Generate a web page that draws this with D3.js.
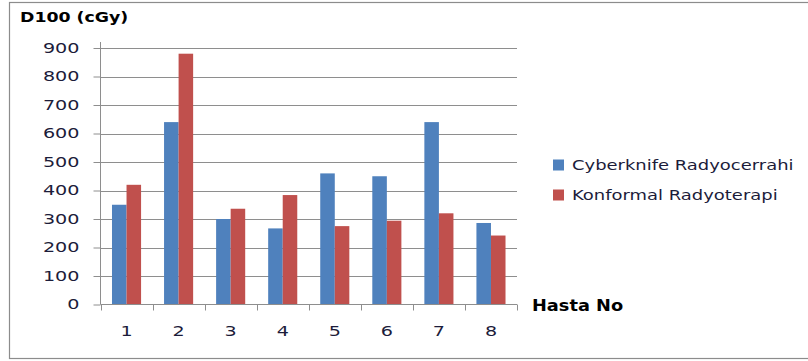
<!DOCTYPE html>
<html>
<head>
<meta charset="utf-8">
<script src="https://cdn.jsdelivr.net/npm/d3@7"></script>
<style>
  html, body { margin: 0; padding: 0; background: #fff; }
  svg { display: block; }
  text { font-family: "DejaVu Sans", Verdana, sans-serif; }
</style>
</head>
<body>
<svg id="chart" width="808" height="361"></svg>
<script>
// Patient numbers and D100 doses (cGy) for the two treatment techniques
const patients = ["1", "2", "3", "4", "5", "6", "7", "8"];
const cyberknife = [350, 640, 300, 267, 460, 450, 640, 286];
const konformal = [420, 880, 336, 384, 275, 294, 320, 242];
const seriesNames = ["Cyberknife Radyocerrahi", "Konformal Radyoterapi"];
const yTicks = [0, 100, 200, 300, 400, 500, 600, 700, 800, 900];

const colors = ["#4F81BD", "#C0504D"];
const series = [cyberknife, konformal];
const labelColor = "#1c1c3a";
const wide = 1.42;        // horizontal stretch of the axis labels
const legendWide = 1.33;  // horizontal stretch of the legend labels

const svg = d3.select("#chart");

// Chart frame
svg.append("rect")
  .attr("x", 9.5).attr("y", 2.5)
  .attr("width", 820).attr("height", 356)
  .attr("fill", "#fff").attr("stroke", "#8c8c8c").attr("stroke-width", 1.2);

const plot = { left: 100.5, right: 517, top: 48, bottom: 304.5 };

const x = d3.scaleBand().domain(patients).range([plot.left, plot.right]);
const xInner = d3.scaleBand().domain(d3.range(series.length)).range([0, x.bandwidth()])
  .paddingInner(0).paddingOuter(0.79);
const y = d3.scaleLinear().domain([0, 900]).range([plot.bottom, plot.top]);

// Horizontal gridlines
svg.append("g")
  .selectAll("line")
  .data(yTicks.filter(d => d > 0))
  .join("line")
  .attr("x1", plot.left).attr("x2", plot.right)
  .attr("y1", d => Math.round(y(d)) + 0.5).attr("y2", d => Math.round(y(d)) + 0.5)
  .attr("stroke", "#8e8e8e").attr("stroke-width", 1);

// Bars
const groups = svg.append("g")
  .selectAll("g")
  .data(patients)
  .join("g")
  .attr("transform", d => `translate(${x(d)},0)`);

groups.selectAll("rect")
  .data((d, i) => series.map((s, k) => ({ k, v: s[i] })))
  .join("rect")
  .attr("x", d => xInner(d.k))
  .attr("width", xInner.bandwidth())
  .attr("y", d => y(d.v))
  .attr("height", d => plot.bottom - y(d.v))
  .attr("fill", d => colors[d.k]);

// Y axis
const yAxis = d3.axisLeft(y).tickValues(yTicks).tickSize(7).tickPadding(0);
const gy = svg.append("g").attr("transform", `translate(${plot.left},0)`).call(yAxis);
gy.select(".domain").attr("stroke", "#8e8e8e").attr("d", `M0,${plot.bottom}V${plot.top - 6}`);
gy.selectAll(".tick line").attr("stroke", "#8e8e8e");
gy.selectAll(".tick text")
  .attr("font-size", 13.5).attr("fill", labelColor)
  .attr("font-family", "'DejaVu Sans', Verdana, sans-serif")
  .attr("x", -21 / wide)
  .attr("transform", `scale(${wide},1)`);

// X axis: ticks at category boundaries
const xAxis = d3.axisBottom(x).tickSize(0).tickPadding(22);
const gx = svg.append("g").attr("transform", `translate(0,${plot.bottom})`).call(xAxis);
gx.select(".domain").attr("stroke", "#8e8e8e").attr("d", `M${plot.left},0H${plot.right}`);
gx.selectAll(".tick text")
  .attr("font-size", 13.5).attr("fill", labelColor)
  .attr("font-family", "'DejaVu Sans', Verdana, sans-serif")
  .attr("transform", `scale(${wide},1)`);
gx.append("g")
  .selectAll("line")
  .data(patients.map(p => x(p)).concat([plot.right]))
  .join("line")
  .attr("x1", d => Math.round(d) + 0.5).attr("x2", d => Math.round(d) + 0.5)
  .attr("y1", 0).attr("y2", 6)
  .attr("stroke", "#8e8e8e");

// Axis titles
svg.append("text")
  .attr("transform", "translate(20,22) scale(1.24,1)")
  .attr("font-size", 14).attr("font-weight", "bold").attr("fill", "#000")
  .text("D100 (cGy)");

svg.append("text")
  .attr("transform", "translate(532,311) scale(1.11,1)")
  .attr("font-size", 16).attr("font-weight", "bold").attr("fill", "#000")
  .text("Hasta No");

// Legend
const legend = svg.append("g")
  .selectAll("g")
  .data(seriesNames)
  .join("g")
  .attr("transform", (d, i) => `translate(553,${159.5 + i * 30})`);
legend.append("rect")
  .attr("width", 11).attr("height", 11)
  .attr("fill", (d, i) => colors[i]);
legend.append("text")
  .attr("transform", `translate(19,10.5) scale(${legendWide},1)`)
  .attr("font-size", 13.5).attr("fill", labelColor)
  .text(d => d);
</script>
</body>
</html>
